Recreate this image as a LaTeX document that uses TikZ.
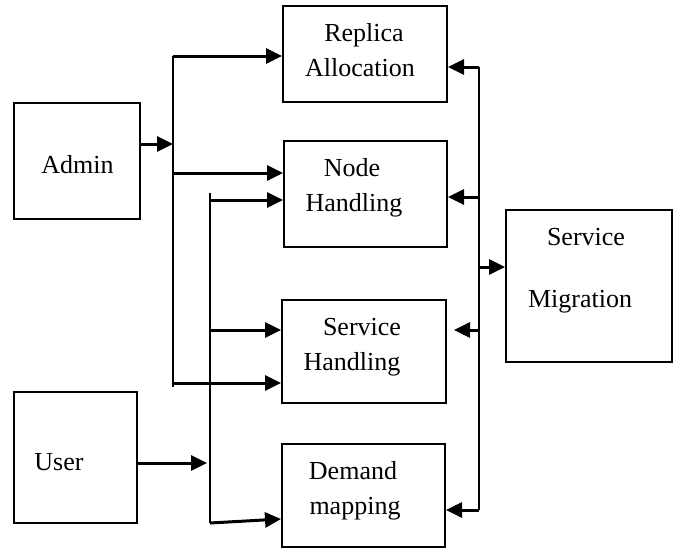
\documentclass[tikz,border=0pt]{standalone}
\usepackage{fontspec}
\setmainfont{Liberation Serif}
\usetikzlibrary{arrows.meta}
\begin{document}
\begin{tikzpicture}[x=1pt,y=-1pt,
  box/.style={draw=black,line width=2pt,inner sep=0pt,minimum width=#1},
  lbl/.style={anchor=base,inner sep=0pt,font=\fontsize{26}{30}\selectfont},
  bus/.style={line width=1.9pt},
  arr/.style={line width=3pt,-{Triangle[length=16pt,width=15pt]}},
  arrl/.style={line width=3pt,{Triangle[length=16pt,width=15pt]}-}]
\useasboundingbox (0,0) rectangle (674,550);
% boxes
\node[box=164pt,minimum height=96pt] (rep) at (365,54) {};
\node[box=163pt,minimum height=106pt] (nod) at (365.5,194) {};
\node[box=164pt,minimum height=103pt] (sh) at (364,351.5) {};
\node[box=163pt,minimum height=103pt] (dem) at (363.5,495.5) {};
\node[box=126pt,minimum height=116pt] (adm) at (77,161) {};
\node[box=123pt,minimum height=131pt] (usr) at (75.5,457.5) {};
\node[box=166pt,minimum height=152pt] (mig) at (589,286) {};
% labels
\node[lbl] (repA) at (364,41) {Replica};
\node[lbl] (repB) at (360,76) {Allocation};
\node[lbl] (admA) at (77.5,173) {Admin};
\node[lbl] (nodA) at (352,176) {Node};
\node[lbl] (nodB) at (354,211) {Handling};
\node[lbl] (migA) at (586,245) {Service};
\node[lbl] (migB) at (580,307) {Migration};
\node[lbl] (shA) at (362,335) {Service};
\node[lbl] (shB) at (352,370) {Handling};
\node[lbl] (usrA) at (59,470) {User};
\node[lbl] (demA) at (353,479) {Demand};
\node[lbl] (demB) at (355,514) {mapping};
% bus 1 (admin)
\coordinate (b1top) at (173,56);
\coordinate (b1mid) at (173,144);
\coordinate (b1n) at (173,173);
\coordinate (b1s) at (173,383);
\coordinate (b1end) at (173,387);
\draw[bus] (b1top) -- (b1end);
\draw[arr] (adm.east |- b1mid) -- (b1mid);
\draw[arr] (b1top) -- (b1top -| rep.west);
\draw[arr] (b1n) -- (b1n -| nod.west);
\draw[arr] (b1s) -- (b1s -| sh.west);
% bus 2 (user)
\coordinate (b2top) at (210,193);
\coordinate (b2n) at (210,200);
\coordinate (b2s) at (210,330);
\coordinate (b2u) at (210,463);
\coordinate (b2bot) at (210,523);
\draw[bus] (b2top) -- (b2bot);
\draw[arr] (usr.east |- b2u) -- ([xshift=-3pt]b2u);
\draw[arr] (b2n) -- (b2n -| nod.west);
\draw[arr] (b2s) -- (b2s -| sh.west);
\draw[arr] (b2bot) -- ([yshift=-23.5pt]dem.west);
% right bus (migration)
\coordinate (rtop) at (479,67);
\coordinate (rn) at (479,197);
\coordinate (rm) at (479,267);
\coordinate (rs) at (479,330);
\coordinate (rbot) at (479,510);
\draw[bus] (rtop) -- (rbot);
\draw[arrl] (rtop -| rep.east) -- (rtop);
\draw[arrl] (rn -| nod.east) -- (rn);
\draw[arrl] ([xshift=7pt]rs -| sh.east) -- (rs);
\draw[arrl] (rbot -| dem.east) -- (rbot);
\draw[arr] (rm) -- (rm -| mig.west);
\end{tikzpicture}
\end{document}
